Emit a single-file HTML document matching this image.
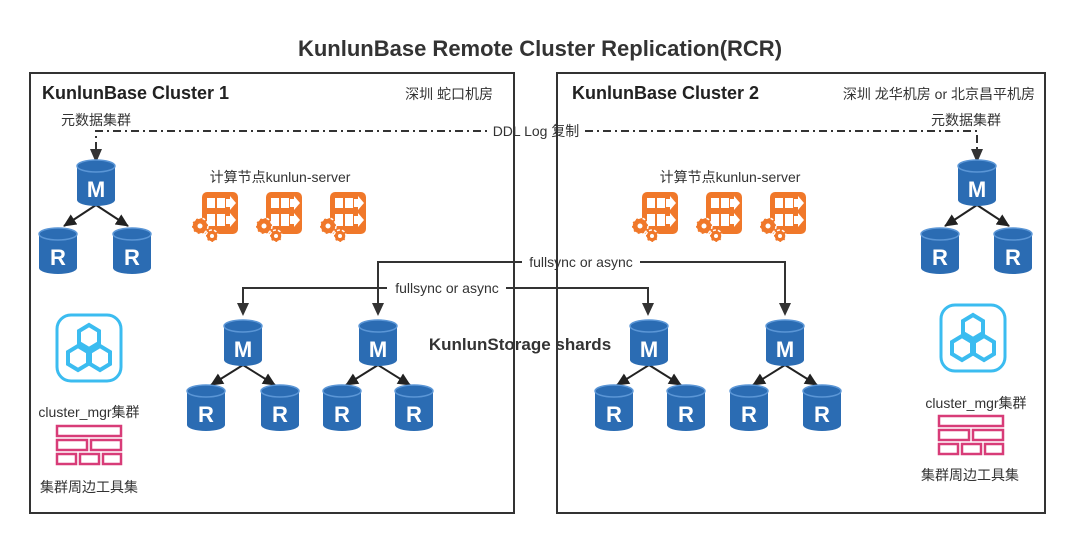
<!DOCTYPE html>
<html><head><meta charset="utf-8"><style>
html,body{margin:0;padding:0;background:#fff;}
svg{display:block;font-family:"Liberation Sans","Noto Sans CJK SC",sans-serif;}
</style></head><body>
<svg width="1080" height="540" viewBox="0 0 1080 540" xmlns="http://www.w3.org/2000/svg">
<defs>
<marker id="ah" markerWidth="14" markerHeight="12" refX="12" refY="6" orient="auto" markerUnits="userSpaceOnUse">
<path d="M0,0 L13,6 L0,12 z" fill="#222"/>
</marker>
<g id="cylM">
<path d="M-19,-17 v34 a19,6 0 0 0 38,0 v-34 z" fill="#2b6cb3"/>
<ellipse cx="0" cy="-17" rx="19" ry="6" fill="#2b6cb3" stroke="#5b96d6" stroke-width="1.5"/>
</g>
<g id="comp">
<rect x="12" y="2" width="36" height="42" rx="5" fill="#f0782a"/>
<rect x="17" y="8" width="8" height="10" fill="#fff"/><rect x="27" y="8" width="8" height="10" fill="#fff"/>
<path d="M36,9 h4 v-3 l6,7 -6,7 v-3 h-4z" fill="#fff"/>
<rect x="17" y="24" width="8" height="12" fill="#fff"/><rect x="27" y="24" width="8" height="12" fill="#fff"/>
<path d="M36,26 h4 v-3 l6,7 -6,7 v-3 h-4z" fill="#fff"/>
<circle cx="10" cy="36" r="8" fill="#f0782a" stroke="#fff" stroke-width="1.5" stroke-dasharray="3 2"/>
<circle cx="10" cy="36" r="2.5" fill="#fff"/>
<circle cx="22" cy="46" r="6" fill="#f0782a" stroke="#fff" stroke-width="1.5" stroke-dasharray="3 2"/>
<circle cx="22" cy="46" r="2" fill="#fff"/>
</g>
<g id="mgr">
<rect x="2" y="2" width="64" height="66" rx="14" fill="none" stroke="#3bbcf0" stroke-width="3"/>
<polygon points="34,12 44,18 44,30 34,36 24,30 24,18" fill="none" stroke="#3bbcf0" stroke-width="4"/>
<polygon points="23,33 33,39 33,51 23,57 13,51 13,39" fill="none" stroke="#3bbcf0" stroke-width="4"/>
<polygon points="45,33 55,39 55,51 45,57 35,51 35,39" fill="none" stroke="#3bbcf0" stroke-width="4"/>
</g>
<g id="tools" fill="none" stroke="#d83c78" stroke-width="2.5">
<rect x="2" y="2" width="64" height="10"/>
<rect x="2" y="16" width="30" height="10"/><rect x="36" y="16" width="30" height="10"/>
<rect x="2" y="30" width="19" height="10"/><rect x="25" y="30" width="19" height="10"/><rect x="48" y="30" width="18" height="10"/>
</g>
</defs>

<text x="540" y="56" text-anchor="middle" font-size="22" font-weight="bold" fill="#333">KunlunBase Remote Cluster Replication(RCR)</text>

<rect x="30" y="73" width="484" height="440" fill="none" stroke="#333" stroke-width="2"/>
<rect x="557" y="73" width="488" height="440" fill="none" stroke="#333" stroke-width="2"/>

<text x="42" y="99" font-size="18" font-weight="bold" fill="#222">KunlunBase Cluster 1</text>
<text x="493" y="99" font-size="14" fill="#333" text-anchor="end">深圳 蛇口机房</text>
<text x="572" y="99" font-size="18" font-weight="bold" fill="#222">KunlunBase Cluster 2</text>
<text x="1035" y="99" font-size="14" fill="#333" text-anchor="end">深圳 龙华机房 or 北京昌平机房</text>

<text x="96" y="125" font-size="14" fill="#333" text-anchor="middle">元数据集群</text>
<text x="966" y="125" font-size="14" fill="#333" text-anchor="middle">元数据集群</text>

<g stroke="#333" stroke-width="2" fill="none" stroke-dasharray="8 4 2 4">
<path d="M96,150 V131 H488"/>
<path d="M585,131 H977 V150"/>
</g>
<path d="M90,149 L96,163 L102,149z" fill="#333"/>
<path d="M971,149 L977,163 L983,149z" fill="#333"/>
<text x="536" y="136" font-size="14" fill="#333" text-anchor="middle">DDL Log 复制</text>

<g stroke="#333" stroke-width="2" fill="none">
<path d="M378,305 V262 H522"/>
<path d="M640,262 H785 V305"/>
<path d="M243,305 V288 H387"/>
<path d="M506,288 H648 V305"/>
</g>
<g fill="#333">
<path d="M237,303 L243,316 L249,303z"/>
<path d="M372,303 L378,316 L384,303z"/>
<path d="M642,303 L648,316 L654,303z"/>
<path d="M779,303 L785,316 L791,303z"/>
</g>
<text x="581" y="267" font-size="14" fill="#333" text-anchor="middle">fullsync or async</text>
<text x="447" y="293" font-size="14" fill="#333" text-anchor="middle">fullsync or async</text>

<g stroke="#222" stroke-width="2" marker-end="url(#ah)">
<line x1="96" y1="205" x2="64" y2="226"/><line x1="96" y1="205" x2="128" y2="226"/>
<line x1="977" y1="205" x2="945" y2="226"/><line x1="977" y1="205" x2="1009" y2="226"/>
<line x1="243" y1="365" x2="211" y2="385"/><line x1="243" y1="365" x2="275" y2="385"/>
<line x1="378" y1="365" x2="346" y2="385"/><line x1="378" y1="365" x2="410" y2="385"/>
<line x1="649" y1="365" x2="617" y2="385"/><line x1="649" y1="365" x2="681" y2="385"/>
<line x1="785" y1="365" x2="753" y2="385"/><line x1="785" y1="365" x2="817" y2="385"/>
</g>

<g font-size="22" font-weight="bold" fill="#fff" text-anchor="middle">
<use href="#cylM" x="96" y="183"/><text x="96" y="197" fill="#fff">M</text>
<use href="#cylM" x="58" y="251"/><text x="58" y="265" fill="#fff">R</text>
<use href="#cylM" x="132" y="251"/><text x="132" y="265" fill="#fff">R</text>
<use href="#cylM" x="977" y="183"/><text x="977" y="197" fill="#fff">M</text>
<use href="#cylM" x="940" y="251"/><text x="940" y="265" fill="#fff">R</text>
<use href="#cylM" x="1013" y="251"/><text x="1013" y="265" fill="#fff">R</text>

<use href="#cylM" x="243" y="343"/><text x="243" y="357" fill="#fff">M</text>
<use href="#cylM" x="206" y="408"/><text x="206" y="422" fill="#fff">R</text>
<use href="#cylM" x="280" y="408"/><text x="280" y="422" fill="#fff">R</text>
<use href="#cylM" x="378" y="343"/><text x="378" y="357" fill="#fff">M</text>
<use href="#cylM" x="342" y="408"/><text x="342" y="422" fill="#fff">R</text>
<use href="#cylM" x="414" y="408"/><text x="414" y="422" fill="#fff">R</text>

<use href="#cylM" x="649" y="343"/><text x="649" y="357" fill="#fff">M</text>
<use href="#cylM" x="614" y="408"/><text x="614" y="422" fill="#fff">R</text>
<use href="#cylM" x="686" y="408"/><text x="686" y="422" fill="#fff">R</text>
<use href="#cylM" x="785" y="343"/><text x="785" y="357" fill="#fff">M</text>
<use href="#cylM" x="749" y="408"/><text x="749" y="422" fill="#fff">R</text>
<use href="#cylM" x="822" y="408"/><text x="822" y="422" fill="#fff">R</text>
</g>

<text x="520" y="350" font-size="17" font-weight="bold" fill="#333" text-anchor="middle">KunlunStorage shards</text>

<text x="280" y="182" font-size="14" fill="#333" text-anchor="middle">计算节点kunlun-server</text>
<text x="730" y="182" font-size="14" fill="#333" text-anchor="middle">计算节点kunlun-server</text>
<use href="#comp" x="190" y="190"/><use href="#comp" x="254" y="190"/><use href="#comp" x="318" y="190"/>
<use href="#comp" x="630" y="190"/><use href="#comp" x="694" y="190"/><use href="#comp" x="758" y="190"/>

<use href="#mgr" x="55" y="313"/>
<text x="89" y="417" font-size="14" fill="#333" text-anchor="middle">cluster_mgr集群</text>
<use href="#tools" x="55" y="424"/>
<text x="89" y="492" font-size="14" fill="#333" text-anchor="middle">集群周边工具集</text>

<use href="#mgr" x="939" y="303"/>
<text x="976" y="408" font-size="14" fill="#333" text-anchor="middle">cluster_mgr集群</text>
<use href="#tools" x="937" y="414"/>
<text x="970" y="480" font-size="14" fill="#333" text-anchor="middle">集群周边工具集</text>
</svg>
</body></html>
